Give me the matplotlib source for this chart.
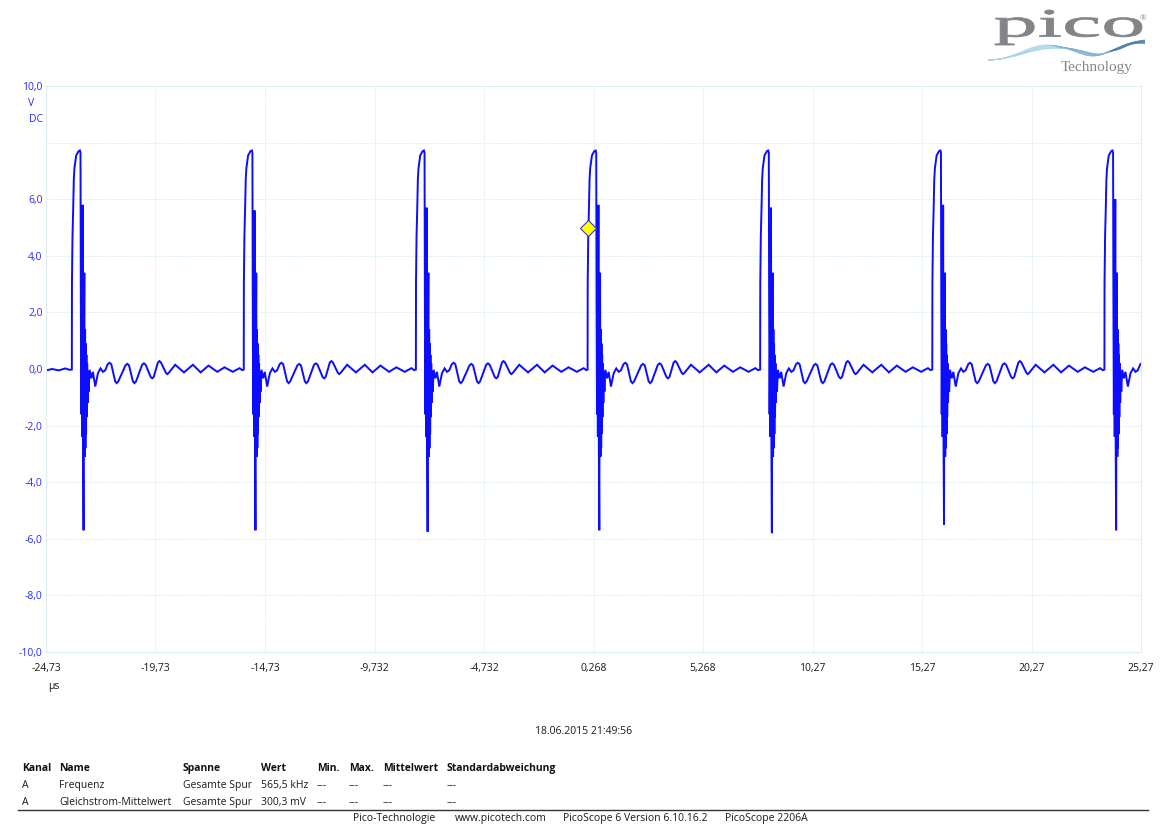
import numpy as np
import matplotlib
matplotlib.use("Agg")
import matplotlib.pyplot as plt
from matplotlib.path import Path
from matplotlib.patches import PathPatch
from matplotlib.textpath import TextPath
from matplotlib.font_manager import FontProperties
from matplotlib.transforms import Affine2D
from matplotlib.lines import Line2D

plt.rcParams['font.family'] = ['Open Sans', 'DejaVu Sans']

W, H = 1169, 827

# rising edges of the pulses (µs) and the size of the two needle spikes (V)
edge_times = [-23.55, -15.70, -7.84, 0.0, 7.88, 15.74, 23.60]
spike_hi = [5.8, 5.6, 5.7, 5.8, 5.7, 5.8, 6.0]
spike_lo = [-5.7, -5.7, -5.75, -5.7, -5.8, -5.5, -5.7]

# one period, relative to the rising edge
pulse_dt = [0.00, 0.005, 0.03, 0.06, 0.09, 0.12, 0.20, 0.31, 0.37, 0.395,
            0.41, 0.43, 0.45, 0.47, 0.495, 0.51, 0.535, 0.555, 0.57, 0.59,
            0.605, 0.62, 0.635, 0.65, 0.665, 0.68, 0.70, 0.72, 0.74, 0.77,
            0.81, 0.89, 0.96, 1.07, 1.19, 1.31, 1.42, 1.52, 1.64, 1.72,
            1.80, 1.98, 2.05, 2.12, 2.45, 2.53, 2.61, 2.79, 2.86, 2.93,
            3.21, 3.29, 3.37, 3.60, 3.67, 3.74, 3.93, 4.00, 4.07, 4.30,
            4.36, 4.42, 4.72, 5.12, 5.53, 5.88, 6.24, 6.64, 6.97, 7.35,
            7.66, 7.78]
pulse_v = [-0.02, 3.0, 4.7, 5.6, 6.7, 7.1, 7.55, 7.70, 7.72, 7.65,
           2.5, -1.6, 1.0, -2.4, None, -2.2, None, 1.6, 3.4, -3.1,
           1.4, -2.8, 0.9, -2.3, 0.5, -1.7, 0.2, -1.2, -0.1, -0.8,
           -0.03, -0.33, -0.1, -0.62, -0.15, 0.02, -0.1, -0.05, 0.17, 0.22,
           0.17, -0.44, -0.50, -0.44, 0.13, 0.18, 0.13, -0.44, -0.50, -0.44,
           0.15, 0.20, 0.15, -0.28, -0.33, -0.28, 0.23, 0.28, 0.23, -0.14,
           -0.18, -0.14, 0.15, -0.12, 0.15, -0.12, 0.12, -0.10, 0.06, -0.10,
           0.03, -0.04]
HI_IDX, LO_IDX = 14, 16

lead_t = [-24.73, -24.45, -24.15, -23.85, -23.65]
lead_v = [-0.05, 0.0, -0.05, 0.02, -0.03]

trig_t, trig_v = 0.0, 5.0

xtick_labels = ["-24,73", "-19,73", "-14,73", "-9,732", "-4,732", "0,268",
                "5,268", "10,27", "15,27", "20,27", "25,27"]
ytick_vals = [-10, -8, -6, -4, -2, 0, 2, 4, 6, 8, 10]
ytick_labels = ["-10,0", "-8,0", "-6,0", "-4,0", "-2,0", "0,0", "2,0", "4,0",
                "6,0", "", "10,0"]

# build the trace
t = list(lead_t)
v = list(lead_v)
for k, e in enumerate(edge_times):
    for i, (dt, val) in enumerate(zip(pulse_dt, pulse_v)):
        if i == HI_IDX:
            val = spike_hi[k]
        elif i == LO_IDX:
            val = spike_lo[k]
        t.append(e + dt)
        v.append(val)

fig = plt.figure(figsize=(W / 100, H / 100), dpi=100)
ax = fig.add_axes([46 / W, 1 - 652 / H, (1141 - 46) / W, (652 - 86) / H])

ax.plot(t, v, color='#0c0cff', lw=1.4, solid_joinstyle='miter')
ax.plot(trig_t, trig_v, marker='D', ms=8, mfc='#ffff00', mec='#3a3ad0', mew=0.8)

ax.set_xlim(-24.73, 25.27)
ax.set_ylim(-10, 10)
ax.set_xticks([-24.73 + 5 * i for i in range(len(xtick_labels))])
ax.set_xticklabels(xtick_labels)
ax.set_yticks(ytick_vals)
ax.set_yticklabels(ytick_labels)
ax.tick_params(axis='x', length=0, pad=8, labelsize=7.5, labelcolor='#1a1a1a')
ax.tick_params(axis='y', length=0, pad=2.5, labelsize=7.5, labelcolor='#2a2aff')
ax.grid(True, color='#dcedf3', lw=0.7, linestyle=(0, (1.5, 1)))
for s in ax.spines.values():
    s.set_color('#dcedf3')
    s.set_linewidth(0.8)


def px(x, y):
    return x / W, 1 - y / H


fig.text(*px(28, 103), "V", color='#2a2aff', fontsize=7.5, ha='left', va='center')
fig.text(*px(29, 120), "DC", color='#2a2aff', fontsize=7.5, ha='left', va='center')
fig.text(*px(48, 687), "µs", color='#1a1a1a', fontsize=7.5, ha='left', va='center')

fig.text(*px(584, 731), "18.06.2015 21:49:56", color='#1a1a1a', fontsize=7.5,
         ha='center', va='center')

# measurement table
col_x = [22, 59, 183, 261, 317, 349, 383, 447]
header = ["Kanal", "Name", "Spanne", "Wert", "Min.", "Max.", "Mittelwert",
          "Standardabweichung"]
row1 = ["A", "Frequenz", "Gesamte Spur", "565,5 kHz", "---", "---", "---", "---"]
row2 = ["A", "Gleichstrom-Mittelwert", "Gesamte Spur", "300,3 mV", "---", "---",
        "---", "---"]
for x, s in zip(col_x, header):
    fig.text(*px(x, 767), s, fontsize=7.5, fontweight='bold', color='#111111',
             ha='left', va='center_baseline')
for y, row in ((784, row1), (801, row2)):
    for x, s in zip(col_x, row):
        fig.text(*px(x, y), s, fontsize=7.5, color='#1a1a1a', ha='left',
                 va='center_baseline')

fig.add_artist(Line2D([18 / W, 1148 / W], [1 - 810 / H] * 2, color='#333333', lw=1.0))

footer_x = [353, 455, 563, 725]
footer = ["Pico-Technologie", "www.picotech.com", "PicoScope 6 Version 6.10.16.2",
          "PicoScope 2206A"]
for x, s in zip(footer_x, footer):
    fig.text(*px(x, 819), s, fontsize=7.5, color='#1a1a1a', ha='left', va='center')

# logo
tp = TextPath((0, 0), "pico", size=100, prop=FontProperties(family='Liberation Serif'))
ext = tp.get_extents()
x0, x1, ytop, ybot = 995, 1142, 10, 45
tr = (Affine2D().translate(-ext.x0, -ext.y0)
      .scale((x1 - x0) / ext.width, (ybot - ytop) / ext.height)
      .translate(x0, H - ybot))
fig.add_artist(PathPatch(tp, transform=tr, fc='#838487', ec='#838487', lw=0.6))

for i in range(8):
    off = i * 1.6
    left = Path([(988, H - 60), (1015, H - 60), (1030, H - 43 - off * 0.4),
                 (1050 + off, H - 45 - off * 0.3)],
                [Path.MOVETO, Path.CURVE4, Path.CURVE4, Path.CURVE4])
    right = Path([(1050 + off, H - 45 - off * 0.3), (1072 + off, H - 47),
                  (1085 + off, H - 60), (1100 + off, H - 55 + off * 0.4)],
                 [Path.MOVETO, Path.CURVE4, Path.CURVE4, Path.CURVE4])
    tail = Path([(1100 + off, H - 55 + off * 0.4), (1115 + off, H - 50),
                 (1125, H - 42), (1145, H - 40 - off * 0.3)],
                [Path.MOVETO, Path.CURVE4, Path.CURVE4, Path.CURVE4])
    fig.add_artist(PathPatch(left, transform=None, fc='none', ec='#a9d3ea', lw=0.5))
    fig.add_artist(PathPatch(right, transform=None, fc='none', ec='#7fb0d2', lw=0.5))
    fig.add_artist(PathPatch(tail, transform=None, fc='none', ec='#4f81a9', lw=0.5))

fig.text(*px(1143, 19), "®", fontsize=5.5, color='#858689', ha='center', va='center')
fig.text(*px(1097, 68), "Technology", fontsize=11, color='#858689',
         family='Liberation Serif', ha='center', va='center')

fig.savefig("out.png", dpi=100)
plt.close(fig)
